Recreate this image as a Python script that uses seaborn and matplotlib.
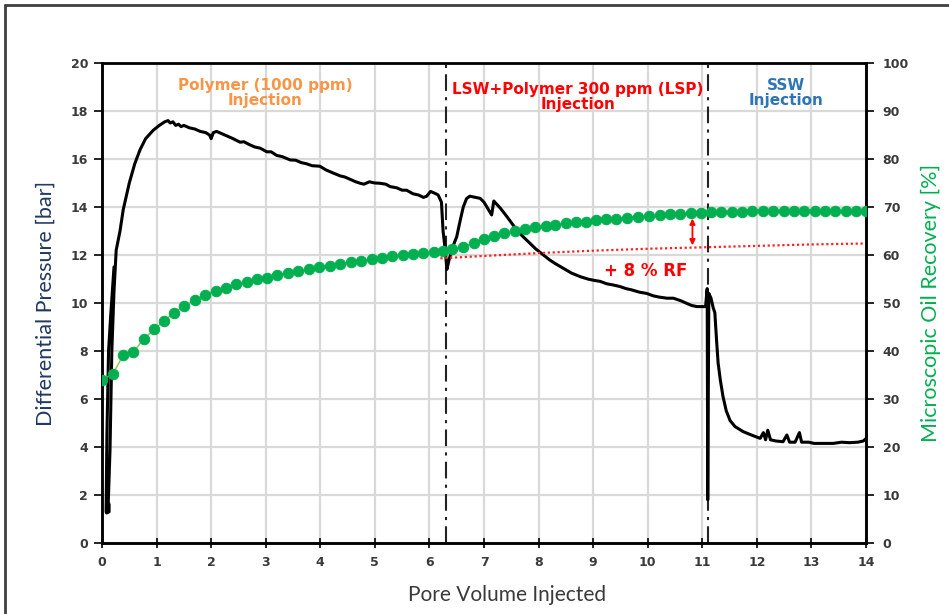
import matplotlib
matplotlib.use("Agg")
import matplotlib.pyplot as plt
import seaborn as sns
import pandas as pd
from matplotlib.lines import Line2D

# ---------------- data ----------------
pv_dp = [0.22, 0.16, 0.12, 0.09, 0.075, 0.075, 0.085, 0.13, 0.13, 0.115, 0.147, 0.18, 0.22, 0.26,
         0.33, 0.39, 0.5, 0.6, 0.7, 0.8, 0.94, 1.05, 1.15, 1.21, 1.25, 1.3, 1.35, 1.4, 1.45, 1.5,
         1.6, 1.7, 1.8, 1.9, 1.97, 2.0, 2.04, 2.1, 2.2, 2.3, 2.4, 2.53, 2.6, 2.7, 2.8, 2.9, 3.02,
         3.1, 3.2, 3.3, 3.45, 3.55, 3.65, 3.75, 3.85, 3.99, 4.1, 4.2, 4.36, 4.45, 4.55, 4.65, 4.73,
         4.8, 4.9, 5.0, 5.09, 5.2, 5.28, 5.4, 5.5, 5.58, 5.7, 5.8, 5.89, 5.95, 6.02, 6.07, 6.12,
         6.16, 6.2, 6.22, 6.25, 6.29, 6.32, 6.36, 6.42, 6.5, 6.56, 6.62, 6.68, 6.74, 6.85, 6.93,
         7.0, 7.08, 7.14, 7.18, 7.22, 7.3, 7.42, 7.5, 7.6, 7.7, 7.84, 7.95, 8.09, 8.2, 8.3, 8.45,
         8.6, 8.76, 8.9, 9.0, 9.13, 9.25, 9.37, 9.5, 9.6, 9.7, 9.85, 9.98, 10.1, 10.2, 10.35,
         10.47, 10.6, 10.7, 10.8, 10.9, 11.0, 11.06, 11.09, 11.1, 11.12, 11.16, 11.2, 11.23,
         11.26, 11.29, 11.33, 11.38, 11.44, 11.51, 11.6, 11.75, 11.9, 12.06, 12.12, 12.16, 12.2,
         12.25, 12.35, 12.48, 12.55, 12.6, 12.7, 12.78, 12.82, 12.95, 13.05, 13.2, 13.4, 13.55,
         13.7, 13.85, 13.95, 14.0]
dp_bar = [11.5, 9.5, 8.0, 4.5, 1.6, 1.3, 1.25, 1.3, 1.6, 1.7, 3.9, 8.0, 10.5, 12.2,
          13.0, 13.9, 15.0, 15.8, 16.4, 16.85, 17.2, 17.4, 17.55, 17.6, 17.5, 17.55, 17.4, 17.45, 17.35, 17.4,
          17.3, 17.25, 17.15, 17.1, 17.0, 16.85, 17.1, 17.15, 17.05, 16.95, 16.85, 16.7, 16.72, 16.6, 16.5, 16.45, 16.3,
          16.3, 16.15, 16.1, 15.96, 15.95, 15.85, 15.8, 15.72, 15.7, 15.55, 15.45, 15.3, 15.25, 15.15, 15.05, 14.99,
          14.95, 15.05, 15.0, 14.99, 14.95, 14.85, 14.8, 14.7, 14.7, 14.55, 14.5, 14.4, 14.45, 14.65, 14.6, 14.55,
          14.5, 14.3, 14.2, 13.0, 12.2, 11.4, 11.8, 12.3, 12.76, 13.4, 14.0, 14.35, 14.45, 14.4, 14.36,
          14.2, 13.9, 13.67, 14.25, 14.15, 13.95, 13.6, 13.35, 13.04, 12.8, 12.49, 12.25, 12.0, 11.8, 11.65, 11.45,
          11.25, 11.1, 11.0, 10.95, 10.9, 10.8, 10.75, 10.68, 10.6, 10.55, 10.45, 10.4, 10.3, 10.25, 10.2,
          10.2, 10.1, 10.0, 9.9, 9.85, 9.85, 9.85, 10.6, 1.8, 10.4, 10.2, 9.8, 9.6,
          8.5, 7.5, 6.8, 6.1, 5.5, 5.1, 4.85, 4.64, 4.5, 4.36, 4.6, 4.3, 4.7,
          4.3, 4.25, 4.22, 4.5, 4.2, 4.2, 4.6, 4.2, 4.2, 4.15, 4.15, 4.15, 4.2,
          4.18, 4.2, 4.25, 4.35]

pv_rec = [0.0, 0.2, 0.39, 0.57, 0.77, 0.96, 1.14, 1.32, 1.51, 1.70, 1.89, 2.08, 2.27, 2.46,
          2.65, 2.84, 3.02, 3.21, 3.41, 3.60, 3.79, 3.98, 4.17, 4.37, 4.56, 4.75, 4.94, 5.13,
          5.32, 5.51, 5.70, 5.89, 6.08, 6.24, 6.42, 6.62, 6.81, 7.0, 7.18, 7.36, 7.56, 7.75,
          7.94, 8.13, 8.31, 8.5, 8.69, 8.87, 9.06, 9.24, 9.42, 9.62, 9.82, 10.02, 10.22, 10.4,
          10.6, 10.8, 10.98, 11.16, 11.35, 11.54, 11.73, 11.92, 12.11, 12.30, 12.49, 12.68,
          12.87, 13.06, 13.25, 13.44, 13.63, 13.82, 14.0]
recovery = [34.0, 35.2, 39.2, 39.7, 42.6, 44.5, 46.3, 48.0, 49.4, 50.6, 51.7, 52.6, 53.2, 53.9,
            54.4, 54.9, 55.3, 55.8, 56.25, 56.6, 57.0, 57.4, 57.8, 58.1, 58.5, 58.8, 59.1, 59.4,
            59.7, 60.0, 60.2, 60.4, 60.6, 60.8, 61.2, 61.7, 62.6, 63.3, 64.0, 64.5, 65.1, 65.5,
            65.8, 66.0, 66.3, 66.6, 66.8, 66.9, 67.2, 67.4, 67.6, 67.8, 68.0, 68.2, 68.3, 68.5,
            68.6, 68.7, 68.7, 68.9, 69.0, 69.0, 69.0, 69.1, 69.1, 69.1, 69.1, 69.1,
            69.1, 69.1, 69.1, 69.1, 69.1, 69.1, 69.2]

pv_trend = [6.2, 7.0, 8.0, 9.0, 10.0, 11.0, 12.0, 13.0, 14.0]
rec_trend = [59.3, 59.8, 60.4, 60.9, 61.3, 61.6, 61.9, 62.2, 62.4]

phase_bounds = [6.3, 11.1]
phase_labels = ["Polymer (1000 ppm)\nInjection", "LSW+Polymer 300 ppm (LSP)\nInjection", "SSW\nInjection"]
phase_label_x = [2.99, 8.72, 12.53]
phase_label_y = [18.75, 18.6, 18.75]
phase_colors = ["#F79646", "#FF0000", "#2E75B6"]

rf_arrow_x = 10.82
rf_arrow_y = [62.0, 67.6]
rf_text = "+ 8 % RF"

x_ticks = list(range(0, 15))
y_left_ticks = list(range(0, 21, 2))
y_right_ticks = list(range(0, 101, 10))

# ---------------- plotting ----------------
sns.set_theme(style="white")
plt.rcParams['font.family'] = ['DejaVu Sans']

fig = plt.figure(figsize=(9.49, 6.14), dpi=100)
ax = fig.add_axes([102/949, 1-543/614, (866-102)/949, (543-63)/614])
ax2 = ax.twinx()

df_dp = pd.DataFrame({"pv": pv_dp, "dp": dp_bar})
df_rec = pd.DataFrame({"pv": pv_rec, "rec": recovery})
df_tr = pd.DataFrame({"pv": pv_trend, "rec": rec_trend})

ax.set_xlim(0, 14)
ax.set_ylim(0, 20)
ax2.set_ylim(0, 100)

# grid
for xv in x_ticks:
    ax.axvline(xv, color="#D9D9D9", lw=1.6, zorder=0)
for yv in y_left_ticks:
    ax.axhline(yv, color="#D9D9D9", lw=1.6, zorder=0)

# phase boundaries
for b in phase_bounds:
    ax.axvline(b, color="#222222", lw=1.5, ls=(0, (8, 3, 1.5, 3)), zorder=2)

sns.lineplot(data=df_dp, x="pv", y="dp", ax=ax, sort=False, estimator=None,
             color="black", lw=2.2, zorder=3)

sns.lineplot(data=df_tr, x="pv", y="rec", ax=ax2, sort=False, estimator=None,
             color="#FF2020", lw=1.6, ls=(0, (1, 1.2)), zorder=2)
sns.lineplot(data=df_rec, x="pv", y="rec", ax=ax2, sort=False, estimator=None,
             color="#8DC63F", lw=1.0, marker="o", markersize=7.5,
             markerfacecolor="#00B050", markeredgecolor="#00B050", zorder=4)

ax2.annotate("", xy=(rf_arrow_x, rf_arrow_y[1]), xytext=(rf_arrow_x, rf_arrow_y[0]),
             arrowprops=dict(arrowstyle="<|-|>", color="#FF0000", lw=1.3,
                             mutation_scale=8, shrinkA=0, shrinkB=0), zorder=5)
ax2.text(9.97, 56.6, rf_text, color="#FF0000", fontsize=12, fontweight="bold",
         ha="center", va="center", zorder=5)

for lbl, lx, ly, c in zip(phase_labels, phase_label_x, phase_label_y, phase_colors):
    ax.text(lx, ly, lbl, color=c, fontsize=11, fontweight="bold", ha="center",
            va="center", linespacing=1.0, zorder=5)

# ticks
ax.set_xticks(x_ticks)
ax.set_yticks(y_left_ticks)
ax2.set_yticks(y_right_ticks)
tick_color = "#3A3A3A"
ax.set_xticklabels([str(v) for v in x_ticks], fontsize=9, fontweight="bold", color=tick_color)
ax.set_yticklabels([str(v) for v in y_left_ticks], fontsize=9, fontweight="bold", color=tick_color)
ax2.set_yticklabels([str(v) for v in y_right_ticks], fontsize=9, fontweight="bold", color=tick_color)
ax.tick_params(axis="x", direction="inout", length=7, width=1.2, color="black", pad=6, bottom=True)
ax.tick_params(axis="y", direction="out", length=6, width=1.2, color="black", pad=4, left=True)
ax2.tick_params(axis="y", direction="out", length=6, width=1.2, color="black", pad=6, right=True)

for a in (ax, ax2):
    for s in a.spines.values():
        s.set_color("black")
        s.set_linewidth(1.8)
ax.spines["top"].set_color("#333333")

ax.set_xlabel("Pore Volume Injected", fontsize=15, color="#3A3A3A", family="Lato")
ax.xaxis.set_label_coords(0.53, -0.088)
ax.set_ylabel("Differential Pressure [bar]", fontsize=15.5, color="#203864", family="Lato")
ax.yaxis.set_label_coords(-0.061, 0.5)
ax2.set_ylabel("Microscopic Oil Recovery [%]", fontsize=15.5, color="#00B050", family="Lato")
ax2.yaxis.set_label_coords(1.072, 0.5)

# outer frame
fig.add_artist(Line2D([5/949, 1.0], [1-5/614, 1-5/614], transform=fig.transFigure,
                      color="#404040", lw=2))
fig.add_artist(Line2D([5/949, 5/949], [0.0, 1-5/614], transform=fig.transFigure,
                      color="#404040", lw=2))

fig.savefig("out.png", dpi=100)
